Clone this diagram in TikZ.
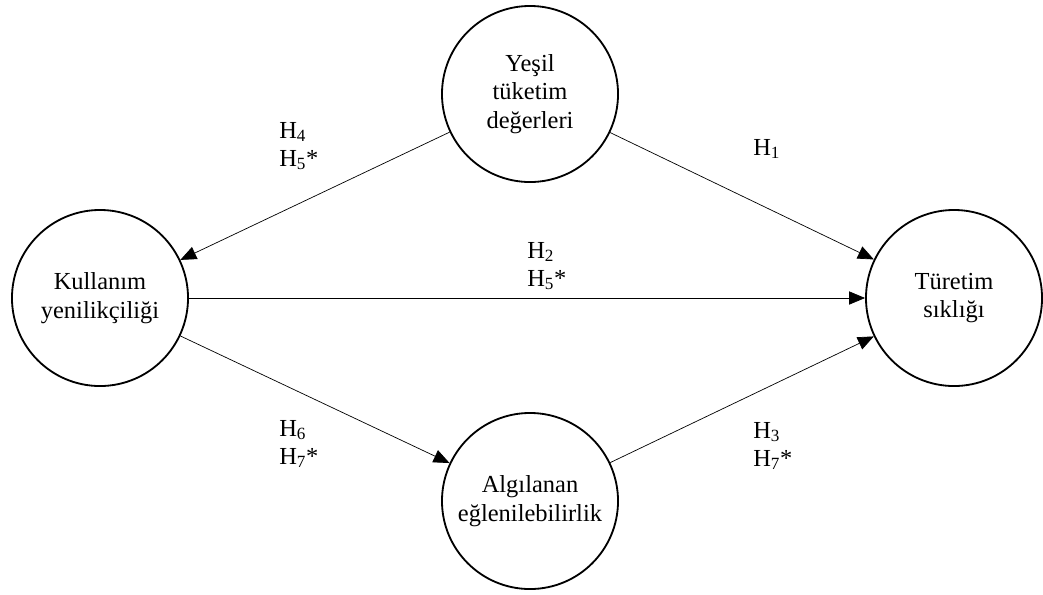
\documentclass[tikz,border=0pt]{standalone}
\usepackage{fontspec}
\setmainfont{Liberation Serif}
\usetikzlibrary{arrows.meta}

\begin{document}
\begin{tikzpicture}[x = 0.025cm, y = -0.025cm,
        construct/.style = {draw, circle, line width = 1.3pt, minimum size = 4.4cm,
            inner sep = 0pt, align = center, font = \fontsize{17.4}{20.4}\selectfont},
        link/.style = {-{Triangle[length = 0.4cm, width = 0.33cm]}, line width = 0.5pt},
        hyp/.style = {inner sep = 0pt, align = left, anchor = west,
            font = \fontsize{17.4}{20}\selectfont}]
        \useasboundingbox (0,0) rectangle (1043,594);
        % constructs
        \node[construct] (green) at (530, 94) {Yeşil\\tüketim\\değerleri};
        \node[construct] (innov) at (100, 298) {Kullanım\\yenilikçiliği};
        \node[construct] (freq) at (954, 298) {Türetim\\sıklığı};
        \node[construct] (fun) at (530, 501) {Algılanan\\eğlenilebilirlik};
        % paths
        \draw[link] (green) -- (innov);
        \draw[link] (green) -- (freq);
        \draw[link] (innov) -- (freq);
        \draw[link] (innov) -- (fun);
        \draw[link] (fun) -- (freq);
        % hypotheses
        \node[hyp] (h45) at (279, 146) {H\textsubscript{4}\\H\textsubscript{5}*};
        \node[hyp, anchor = base west] (h1) at (753, 155) {H\textsubscript{1}};
        \node[hyp] (h25) at (527, 266) {H\textsubscript{2}\\H\textsubscript{5}*};
        \node[hyp] (h67) at (279, 444) {H\textsubscript{6}\\H\textsubscript{7}*};
        \node[hyp] (h37) at (753, 446) {H\textsubscript{3}\\H\textsubscript{7}*};
    \end{tikzpicture}
\end{document}
